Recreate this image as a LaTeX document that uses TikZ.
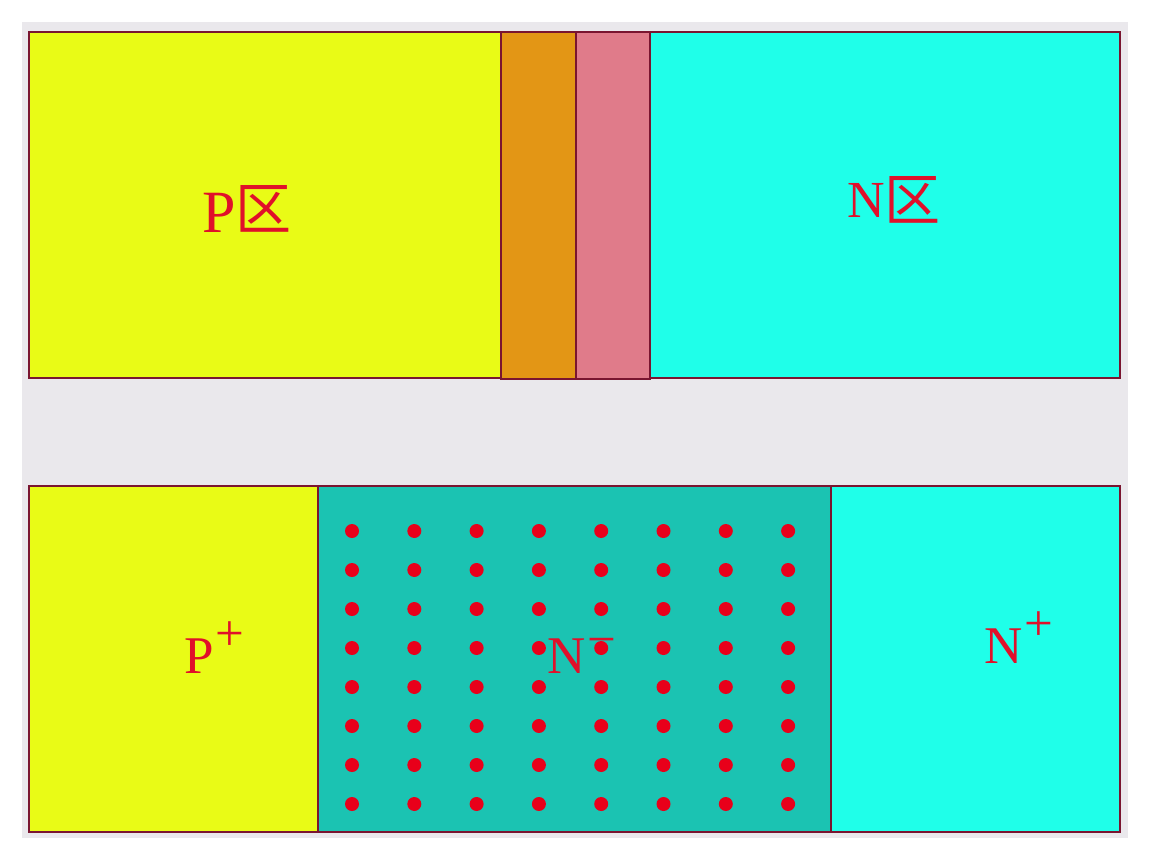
\documentclass[tikz,border=0pt]{standalone}
\usepackage{fontspec}
\setmainfont{Liberation Serif}
\newfontfamily\cjkfont{Noto Sans CJK SC}
\usetikzlibrary{positioning}
\definecolor{panelgrey}{HTML}{EAE8EC}
\definecolor{edgered}{HTML}{7A1530}
\definecolor{pyellow}{HTML}{E9FB16}
\definecolor{junctionorange}{HTML}{E39615}
\definecolor{junctionpink}{HTML}{E07B8A}
\definecolor{ncyan}{HTML}{1FFFE9}
\definecolor{nteal}{HTML}{1BC3B2}
\definecolor{labelred}{HTML}{E0102A}
\definecolor{carrierred}{HTML}{E8001A}
\tikzset{
  region/.style={draw=edgered, line width=1.2pt},
  bigLabel/.style={text=labelred, inner sep=0pt, anchor=base west, font=\fontsize{60}{60}\selectfont},
  smallLabel/.style={text=labelred, inner sep=0pt, anchor=base west, font=\fontsize{53}{53}\selectfont},
  carrier/.style={fill=carrierred}
}
% the Chinese character, lifted by #1
\newcommand{\qu}[1]{\raisebox{#1}{\cjkfont\fontsize{56}{56}\selectfont 区}}
% charge sign above the letter
\newcommand{\charge}[2]{\hspace{2pt}\raisebox{#1}{\fontsize{51}{51}\selectfont #2}}

\begin{document}
\begin{tikzpicture}[x=1pt,y=-1pt]
\path[use as bounding box] (0,0) rectangle (1151,860);
\fill[white] (0,0) rectangle (1151,860);
\fill[panelgrey] (22,22) rectangle (1128,838);

% upper junction
\path[region, fill=pyellow] (29,32) rectangle (501,378);
\path[region, fill=junctionorange] (501,32) rectangle (576,379);
\path[region, fill=junctionpink] (576,32) rectangle (650,379);
\path[region, fill=ncyan] (650,32) rectangle (1120,378);
\node[bigLabel] (preg) at (202,232) {P\qu{3pt}};
\node[bigLabel, font=\fontsize{52}{52}\selectfont] (nreg) at (847,217) {N\qu{-3pt}};

% lower PIN structure
\path[region, fill=pyellow] (29,486) rectangle (318,832);
\path[region, fill=nteal] (318,486) rectangle (831,832);
\path[region, fill=ncyan] (831,486) rectangle (1120,832);
\node[smallLabel] (pplus) at (184,673) {P\charge{23pt}{+}};
\node[smallLabel] (nminus) at (547,673) {N\charge{17pt}{−}};
\node[smallLabel] (nplus) at (984,663) {N\charge{23pt}{+}};

% carriers
\foreach \i in {0,...,7}
  \foreach \j in {0,...,7}
    \fill[carrier] ({352+62.3*\i},{531+39*\j}) circle (7);
\end{tikzpicture}
\end{document}
